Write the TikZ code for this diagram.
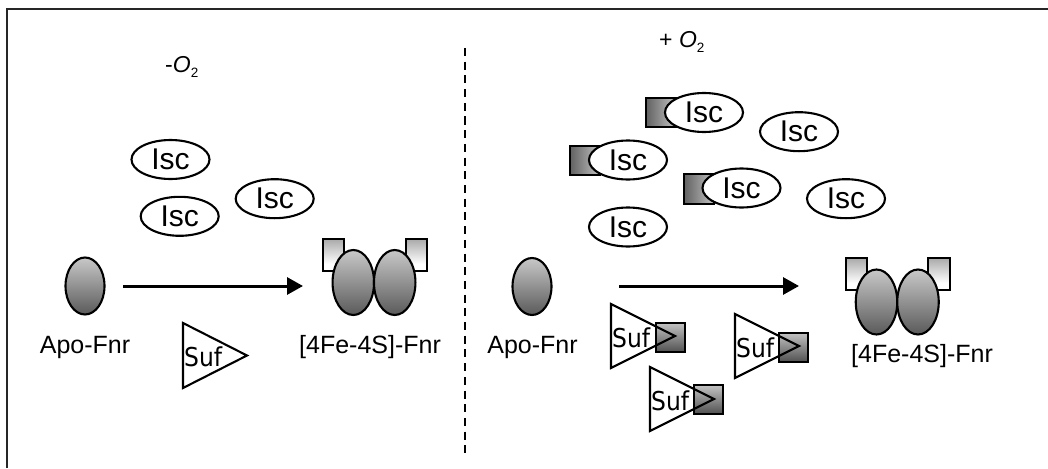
\documentclass[tikz,border=0pt]{standalone}
\usepackage{fontspec}
\setmainfont{Liberation Sans}
\newfontfamily\suffont[FakeStretch=0.9]{DejaVu Sans}
\usetikzlibrary{shapes.geometric,arrows.meta}
\definecolor{shtop}{RGB}{200,200,200}
\definecolor{shbot}{RGB}{90,90,90}
\definecolor{sqlight}{RGB}{195,195,195}
\definecolor{sqdark}{RGB}{80,80,80}
\pgfdeclareverticalshading{capshade}{100bp}{color(0bp)=(black!85); color(20bp)=(white); color(36bp)=(white); color(100bp)=(black!55)}
\newcommand{\subtwo}{\raisebox{-4.5pt}{\fontsize{13.5}{13.5}\selectfont 2}}
\tikzset{
  isc/.style={ellipse, draw, line width=2.1pt, fill=white, minimum width=78pt, minimum height=39pt, inner sep=0pt, font=\fontsize{30}{30}\selectfont},
  apo/.style={ellipse, draw, line width=2.1pt, top color=shtop, bottom color=shbot, minimum width=39pt, minimum height=57pt, inner sep=0pt},
  fnr/.style={ellipse, draw, line width=2.1pt, top color=shtop, bottom color=shbot, minimum width=41.5pt, minimum height=65pt, inner sep=0pt},
  lbl/.style={font=\fontsize{25}{25}\selectfont, inner sep=0pt, anchor=base},
  oxy/.style={font=\fontsize{23}{23}\selectfont, inner sep=0pt, anchor=base west},
  suftxt/.style={font=\suffont\fontsize{26}{26}\selectfont, inner sep=0pt, anchor=base west},
  tri/.style={draw, line width=2.1pt, line join=miter},
  iscsq/.style={draw, line width=1.8pt, left color=sqdark!90, right color=sqlight},
  sufsq/.style={draw, line width=1.8pt, top color=sqlight, bottom color=sqdark},
  capsq/.style={draw, line width=1.5pt, shading=capshade},
  conv/.style={line width=3pt, -{Triangle[length=16pt,width=17pt]}},
}
\begin{document}
\begin{tikzpicture}[x=1pt,y=-1pt]
\useasboundingbox (0,0) rectangle (1048,468);
% frame
\draw[line width=2pt, black!85] (7,468) -- (7,9) -- (1048,9);
% divider
\draw[line width=2.2pt, dash pattern=on 8pt off 5.7pt] (465,48) -- (465,458);

% ---------- left panel ----------
\node[oxy] (om) at (165,73) {-\textit{O}\subtwo};
\node[isc] (i1) at (170.5,159.5) {Isc};
\node[isc] (i2) at (179.7,216.3) {Isc};
\node[isc] (i3) at (274.7,198.7) {Isc};

\node[apo] (apoL) at (85,286) {};
\node[lbl] (apoLl) at (85,353) {Apo-Fnr};

\coordinate (aLs) at (123,286);
\coordinate (aLe) at (303,286);
\draw[conv] (aLs) -- (aLe);

\shade[capsq] (323,239) rectangle (344,271);
\shade[capsq] (406,239) rectangle (427,271);
\node[fnr] (fL1) at (353.3,282.5) {};
\node[fnr] (fL2) at (394.7,282.5) {};
\node[lbl] (fnrLl) at (370,353) {[4Fe-4S]-Fnr};

\draw[tri, fill=white] (183,323) -- (247,355.5) -- (183,388) -- cycle;
\node[suftxt] (sL) at (184,366.5) {Suf};

% ---------- right panel ----------
\node[oxy] (op) at (659,48) {+ \textit{O}\subtwo};

\shade[iscsq] (646,98) rectangle (676,127);
\shade[iscsq] (570,146) rectangle (600,175);
\shade[iscsq] (684,174) rectangle (714,204);
\node[isc] (r1) at (704,112.5) {Isc};
\node[isc] (r2) at (628,160) {Isc};
\node[isc] (r3) at (741.5,188) {Isc};
\node[isc] (r4) at (799,131.7) {Isc};
\node[isc] (r5) at (846,198.7) {Isc};
\node[isc] (r6) at (628,227) {Isc};

\node[apo] (apoR) at (532,286.5) {};
\node[lbl] (apoRl) at (532.5,353) {Apo-Fnr};

\coordinate (aRs) at (619,286);
\coordinate (aRe) at (799,286);
\draw[conv] (aRs) -- (aRe);

\shade[capsq] (846,258) rectangle (867,290);
\shade[capsq] (928,258) rectangle (950,290);
\node[fnr] (fR1) at (876.5,302) {};
\node[fnr] (fR2) at (918,302) {};
\node[lbl] (fnrRl) at (922,362) {[4Fe-4S]-Fnr};

% Suf with cluster
\fill[white] (611,304) -- (675,336) -- (611,368) -- cycle;
\shade[sufsq] (656,323) rectangle (685,352);
\draw[tri] (611,304) -- (675,336) -- (611,368) -- cycle;
\node[suftxt] (sR1) at (612,347.5) {Suf};

\fill[white] (735,314) -- (799,346) -- (735,378) -- cycle;
\shade[sufsq] (779,333) rectangle (808,362);
\draw[tri] (735,314) -- (799,346) -- (735,378) -- cycle;
\node[suftxt] (sR2) at (736,357.5) {Suf};

\fill[white] (650,367) -- (714,399) -- (650,431) -- cycle;
\shade[sufsq] (694,385) rectangle (723,414);
\draw[tri] (650,367) -- (714,399) -- (650,431) -- cycle;
\node[suftxt] (sR3) at (651,410.5) {Suf};
\end{tikzpicture}
\end{document}
